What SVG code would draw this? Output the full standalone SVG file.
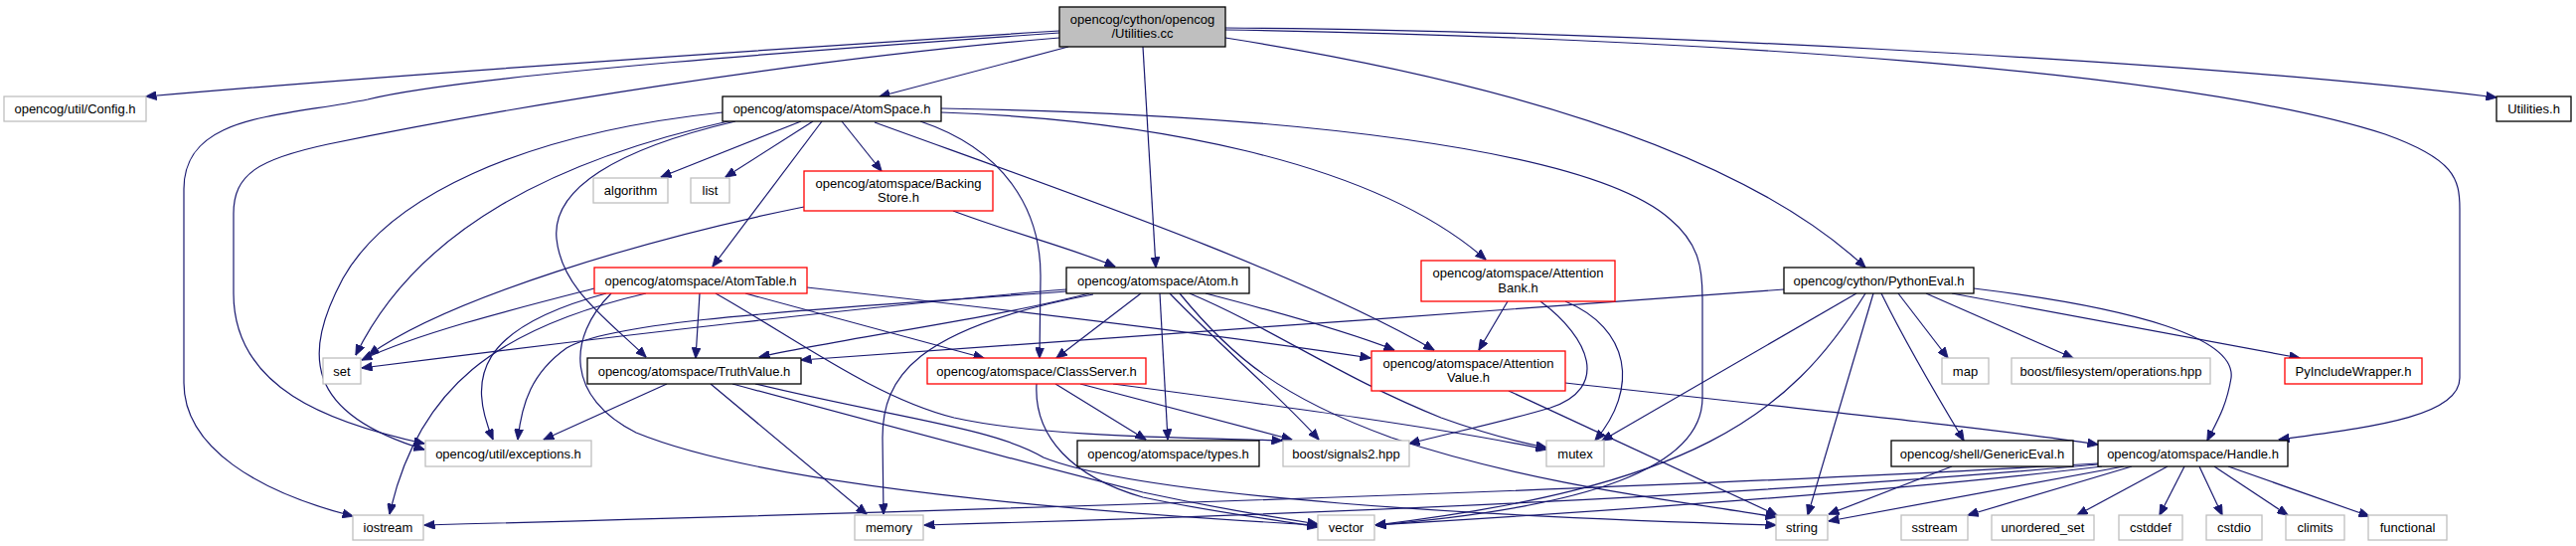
<svg xmlns="http://www.w3.org/2000/svg" width="2592" height="549" viewBox="0 0 2592 549">
<style>
.n rect{fill:#ffffff;stroke-width:1.3}
.ext rect{stroke:#bfbfbf}
.doc rect{stroke:#000000}
.trn rect{stroke:#ff0000}
.root rect{fill:#bfbfbf;stroke:#000000}
.n text{font-family:"Liberation Sans",Arial,sans-serif;font-size:13px;fill:#000000;text-anchor:middle}
#edges path{fill:none;stroke:#191970;stroke-width:1.2;marker-end:url(#arr)}
</style>
<defs>
<marker id="arr" markerUnits="userSpaceOnUse" markerWidth="11" markerHeight="9" viewBox="0 0 11 9" refX="10.5" refY="4.5" orient="auto">
<path d="M0,0 L11,4.5 L0,9 z" fill="#191970" stroke="#191970" stroke-width="0.8"/>
</marker>
</defs>
<rect x="0" y="0" width="2592" height="549" fill="#ffffff"/>
<g id="edges">
<path d="M1066,31 C800,48 400,75 147,97"/>
<path d="M1066,33 C850,48 470,75 370,100 C280,118 185,115 185,190 L185,385 C185,450 260,495 355,519"/>
<path d="M1066,38 C800,60 500,110 330,145 C260,160 235,175 235,215 L235,295 C235,390 330,425 427,446"/>
<path d="M1075,47 L885,97"/>
<path d="M1150,47 L1163,269"/>
<path d="M1233,38 C1500,80 1750,150 1877,269"/>
<path d="M1233,28 C1600,30 2200,60 2512,98"/>
<path d="M1233,30 C1700,38 2200,70 2400,135 C2470,160 2475,180 2475,210 L2475,380 C2475,420 2380,430 2293,442"/>
<path d="M806,122 L665,178"/>
<path d="M818,122 L730,178"/>
<path d="M847,122 L887,172"/>
<path d="M827,122 L717,268"/>
<path d="M737,121 C560,160 420,230 358,357"/>
<path d="M727,113 C520,135 390,200 345,280 C305,355 305,415 427,452"/>
<path d="M740,122 C620,150 555,190 560,240 C565,290 610,320 650,359"/>
<path d="M926,122 C1010,150 1048,210 1047,280 L1046,360"/>
<path d="M947,113 C1150,120 1380,160 1495,261"/>
<path d="M880,123 C1050,185 1300,270 1443,352"/>
<path d="M947,109 C1300,115 1600,150 1680,220 C1710,245 1713,270 1713,300 L1713,400 C1713,470 1600,510 1384,528"/>
<path d="M809,208 C650,240 450,300 371,357"/>
<path d="M959,212 C1020,235 1080,250 1122,268"/>
<path d="M598,290 C520,310 420,335 364,362"/>
<path d="M610,295 C480,330 470,380 496,442"/>
<path d="M650,295 C500,330 420,390 392,517"/>
<path d="M704,295 L700,360"/>
<path d="M750,295 L990,360"/>
<path d="M812,289 C1000,310 1250,340 1379,360"/>
<path d="M720,295 C800,340 880,400 960,420 C1050,440 1200,440 1290,443"/>
<path d="M615,295 C570,340 570,400 640,435 C750,480 1000,510 1326,528"/>
<path d="M1073,291 C900,305 600,340 364,370"/>
<path d="M1073,293 C850,310 620,320 570,350 C535,375 525,405 521,442"/>
<path d="M1096,295 C1000,320 850,340 764,359"/>
<path d="M1100,296 C920,330 888,380 888,440 L889,517"/>
<path d="M1148,295 L1063,360"/>
<path d="M1167,295 L1175,442"/>
<path d="M1177,295 C1230,350 1290,400 1327,442"/>
<path d="M1213,295 C1290,315 1360,335 1403,352"/>
<path d="M1197,295 C1280,330 1350,380 1450,420 C1500,438 1530,445 1556,450"/>
<path d="M1187,295 C1240,360 1290,400 1400,440 C1550,490 1700,505 1787,520"/>
<path d="M671,386 L547,442"/>
<path d="M715,386 L872,517"/>
<path d="M737,386 C900,430 1050,470 1150,495 C1220,510 1280,520 1326,527"/>
<path d="M760,386 C900,420 1000,430 1050,460 C1150,500 1500,520 1787,528"/>
<path d="M1062,386 L1153,442"/>
<path d="M1087,386 L1300,442"/>
<path d="M1120,386 C1300,410 1450,430 1556,452"/>
<path d="M1043,386 C1040,440 1080,480 1150,500 C1220,515 1280,522 1326,530"/>
<path d="M1517,303 L1488,352"/>
<path d="M1550,303 C1600,340 1620,390 1560,410 C1510,425 1460,435 1418,446"/>
<path d="M1575,303 C1640,330 1650,390 1605,443"/>
<path d="M1518,393 L1788,518"/>
<path d="M1575,385 C1800,410 2000,430 2111,447"/>
<path d="M1795,291 C1500,315 1000,345 806,362"/>
<path d="M1868,295 L1612,443"/>
<path d="M1877,295 C1800,420 1700,490 1384,528"/>
<path d="M1885,295 L1819,518"/>
<path d="M1893,295 C1920,350 1950,400 1976,443"/>
<path d="M1910,295 L1960,360"/>
<path d="M1938,295 L2086,360"/>
<path d="M1964,295 L2314,360"/>
<path d="M1986,290 C2150,310 2250,340 2245,380 C2240,410 2230,425 2221,443"/>
<path d="M1964,469 L1840,517"/>
<path d="M2111,466 C1700,490 1100,510 427,528"/>
<path d="M2111,467 C1800,495 1400,515 930,528"/>
<path d="M2115,469 C1900,495 1600,515 1384,528"/>
<path d="M2137,469 L1840,524"/>
<path d="M2145,469 L1980,518"/>
<path d="M2181,469 L2090,518"/>
<path d="M2198,469 L2173,518"/>
<path d="M2213,469 L2236,518"/>
<path d="M2228,469 L2302,518"/>
<path d="M2242,469 L2384,519"/>
</g>
<g id="n_root" class="n root"><rect x="1066" y="7" width="167" height="40"/><text x="1149.5" y="23.5">opencog/cython/opencog</text><text x="1149.5" y="37.5">/Utilities.cc</text></g>
<g id="n_config" class="n ext"><rect x="4" y="97" width="143" height="25"/><text x="75.5" y="114">opencog/util/Config.h</text></g>
<g id="n_atomspace" class="n doc"><rect x="727" y="97" width="220" height="25"/><text x="837" y="114">opencog/atomspace/AtomSpace.h</text></g>
<g id="n_utilitiesh" class="n doc"><rect x="2512" y="97" width="75" height="25"/><text x="2549.5" y="114">Utilities.h</text></g>
<g id="n_algorithm" class="n ext"><rect x="597" y="179" width="75" height="25"/><text x="634.5" y="196">algorithm</text></g>
<g id="n_list" class="n ext"><rect x="695" y="179" width="39" height="25"/><text x="714.5" y="196">list</text></g>
<g id="n_backingstore" class="n trn"><rect x="809" y="172" width="190" height="40"/><text x="904" y="188.5">opencog/atomspace/Backing</text><text x="904" y="203">Store.h</text></g>
<g id="n_atomtable" class="n trn"><rect x="598" y="269" width="214" height="26"/><text x="705" y="286.5">opencog/atomspace/AtomTable.h</text></g>
<g id="n_atom" class="n doc"><rect x="1073" y="269" width="184" height="26"/><text x="1165" y="286.5">opencog/atomspace/Atom.h</text></g>
<g id="n_attentionbank" class="n trn"><rect x="1430" y="262" width="195" height="41"/><text x="1527.5" y="279">opencog/atomspace/Attention</text><text x="1527.5" y="293.5">Bank.h</text></g>
<g id="n_pythoneval" class="n doc"><rect x="1795" y="269" width="191" height="26"/><text x="1890.5" y="286.5">opencog/cython/PythonEval.h</text></g>
<g id="n_set" class="n ext"><rect x="325" y="360" width="38" height="26"/><text x="344" y="377.5">set</text></g>
<g id="n_truthvalue" class="n doc"><rect x="591" y="360" width="215" height="26"/><text x="698.5" y="377.5">opencog/atomspace/TruthValue.h</text></g>
<g id="n_classserver" class="n trn"><rect x="933" y="360" width="220" height="26"/><text x="1043" y="377.5">opencog/atomspace/ClassServer.h</text></g>
<g id="n_attentionvalue" class="n trn"><rect x="1380" y="353" width="195" height="40"/><text x="1477.5" y="369.5">opencog/atomspace/Attention</text><text x="1477.5" y="384">Value.h</text></g>
<g id="n_map" class="n ext"><rect x="1954" y="360" width="47" height="26"/><text x="1977.5" y="377.5">map</text></g>
<g id="n_filesystem" class="n ext"><rect x="2024" y="360" width="200" height="26"/><text x="2124" y="377.5">boost/filesystem/operations.hpp</text></g>
<g id="n_pyinclude" class="n trn"><rect x="2299" y="360" width="138" height="26"/><text x="2368" y="377.5">PyIncludeWrapper.h</text></g>
<g id="n_exceptions" class="n ext"><rect x="428" y="443" width="167" height="26"/><text x="511.5" y="460.5">opencog/util/exceptions.h</text></g>
<g id="n_types" class="n doc"><rect x="1084" y="443" width="183" height="26"/><text x="1175.5" y="460.5">opencog/atomspace/types.h</text></g>
<g id="n_signals2" class="n ext"><rect x="1291" y="443" width="127" height="26"/><text x="1354.5" y="460.5">boost/signals2.hpp</text></g>
<g id="n_mutex" class="n ext"><rect x="1556" y="443" width="58" height="26"/><text x="1585" y="460.5">mutex</text></g>
<g id="n_genericeval" class="n doc"><rect x="1903" y="443" width="183" height="26"/><text x="1994.5" y="460.5">opencog/shell/GenericEval.h</text></g>
<g id="n_handle" class="n doc"><rect x="2111" y="443" width="191" height="26"/><text x="2206.5" y="460.5">opencog/atomspace/Handle.h</text></g>
<g id="n_iostream" class="n ext"><rect x="355" y="518" width="71" height="25"/><text x="390.5" y="535">iostream</text></g>
<g id="n_memory" class="n ext"><rect x="860" y="518" width="69" height="25"/><text x="894.5" y="535">memory</text></g>
<g id="n_vector" class="n ext"><rect x="1326" y="518" width="57" height="25"/><text x="1354.5" y="535">vector</text></g>
<g id="n_string" class="n ext"><rect x="1787" y="518" width="52" height="25"/><text x="1813" y="535">string</text></g>
<g id="n_sstream" class="n ext"><rect x="1913" y="518" width="67" height="25"/><text x="1946.5" y="535">sstream</text></g>
<g id="n_unordered_set" class="n ext"><rect x="2004" y="518" width="103" height="25"/><text x="2055.5" y="535">unordered_set</text></g>
<g id="n_cstddef" class="n ext"><rect x="2132" y="518" width="64" height="25"/><text x="2164" y="535">cstddef</text></g>
<g id="n_cstdio" class="n ext"><rect x="2220" y="518" width="56" height="25"/><text x="2248" y="535">cstdio</text></g>
<g id="n_climits" class="n ext"><rect x="2300" y="518" width="59" height="25"/><text x="2329.5" y="535">climits</text></g>
<g id="n_functional" class="n ext"><rect x="2383" y="518" width="79" height="25"/><text x="2422.5" y="535">functional</text></g>
</svg>
